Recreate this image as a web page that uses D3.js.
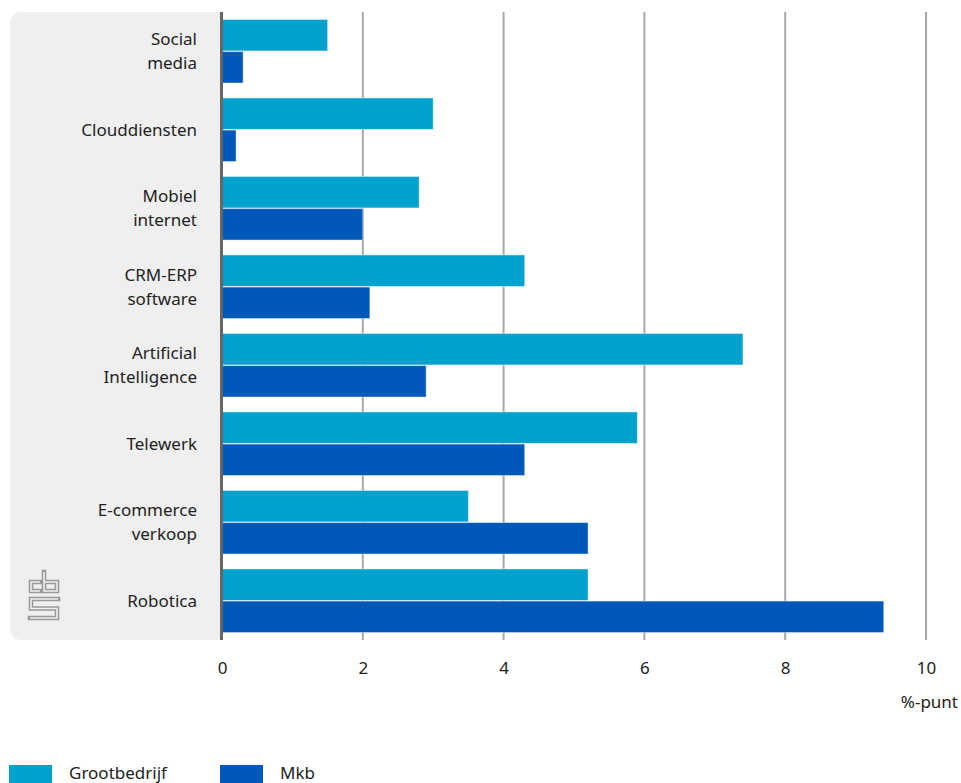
<!DOCTYPE html>
<html>
<head>
<meta charset="utf-8">
<script src="https://cdn.jsdelivr.net/npm/d3@7"></script>
<style>
  html, body { margin: 0; padding: 0; background: #fff; }
  svg { display: block; font-family: "Noto Sans", "DejaVu Sans", sans-serif; }
</style>
</head>
<body>
<svg id="chart" width="961" height="783"></svg>
<script>
// Onderwerpen en verschillen in %-punt
const categories = [
  ["Social", "media"],
  ["Clouddiensten"],
  ["Mobiel", "internet"],
  ["CRM-ERP", "software"],
  ["Artificial", "Intelligence"],
  ["Telewerk"],
  ["E-commerce", "verkoop"],
  ["Robotica"]
];
const grootbedrijf = [1.5, 3.0, 2.8, 4.3, 7.4, 5.9, 3.5, 5.2];
const mkb = [0.3, 0.2, 2.0, 2.1, 2.9, 4.3, 5.2, 9.4];
const seriesNames = ["Grootbedrijf", "Mkb"];
const seriesColors = ["#00a1cd", "#0058b8"];
const xTicks = [0, 2, 4, 6, 8, 10];
const unitLabel = "%-punt";

const svg = d3.select("#chart");
const plot = { left: 222, right: 926, top: 12, bottom: 640 };
const fontSize = 17;

const x = d3.scaleLinear().domain([0, 10]).range([plot.left, plot.right]);
const y = d3.scaleBand().domain(d3.range(categories.length))
  .range([plot.top, plot.bottom]).paddingInner(0.19).paddingOuter(0.095);
const inner = d3.scaleBand().domain([0, 1]).range([0, y.bandwidth()]).paddingInner(0.02);

// grijs labelpaneel met afgeronde linkerhoeken
const panelX = 10, r = 12;
svg.append("path")
  .attr("d", `M${plot.left},${plot.top} H${panelX + r} Q${panelX},${plot.top} ${panelX},${plot.top + r}
              V${plot.bottom - r} Q${panelX},${plot.bottom} ${panelX + r},${plot.bottom} H${plot.left} Z`)
  .attr("fill", "#efefef");

// verticale rasterlijnen
svg.append("g").selectAll("line").data(xTicks.filter(d => d > 0)).join("line")
  .attr("x1", d => x(d)).attr("x2", d => x(d))
  .attr("y1", plot.top).attr("y2", plot.bottom)
  .attr("stroke", "#a8a8a8").attr("stroke-width", 2);

// staven
const groups = svg.append("g").selectAll("g").data(categories).join("g")
  .attr("transform", (d, i) => `translate(0,${y(i)})`);
groups.selectAll("rect")
  .data((d, i) => [grootbedrijf[i], mkb[i]])
  .join("rect")
  .attr("x", x(0))
  .attr("y", (d, j) => inner(j))
  .attr("width", d => x(d) - x(0))
  .attr("height", inner.bandwidth())
  .attr("fill", (d, j) => seriesColors[j])
  .attr("stroke", "rgba(255,255,255,0.45)")
  .attr("stroke-width", 1);

// categorielabels
groups.append("text")
  .attr("text-anchor", "end")
  .attr("font-size", fontSize)
  .attr("fill", "#222")
  .each(function (d) {
    const t = d3.select(this);
    const lh = 24;
    const start = y.bandwidth() / 2 - (d.length - 1) * lh / 2 + 6;
    d.forEach((line, k) => {
      t.append("tspan").attr("x", 197).attr("y", start + k * lh).text(line);
    });
  });

// nul-as
svg.append("line")
  .attr("x1", x(0) - 0.5).attr("x2", x(0) - 0.5)
  .attr("y1", plot.top).attr("y2", plot.bottom)
  .attr("stroke", "#666").attr("stroke-width", 3);

// x-as labels
const axis = svg.append("g").attr("transform", `translate(0,${plot.bottom})`)
  .call(d3.axisBottom(x).tickValues(xTicks).tickSize(0).tickPadding(22).tickFormat(d3.format("d")));
axis.select(".domain").remove();
axis.selectAll("text").attr("font-size", fontSize).attr("fill", "#222")
  .attr("font-family", "\"Noto Sans\", \"DejaVu Sans\", sans-serif");

svg.append("text")
  .attr("x", 958).attr("y", 708)
  .attr("text-anchor", "end").attr("font-size", fontSize).attr("fill", "#222")
  .text(unitLabel);

// CBS-logo: holle lijnen (dikke grijze lijn met dunne paneelkleur erover)
const logoPaths = [
  "M11,10 H2 V19 H11",
  "M15,0 V19 H28 V10 H15",
  "M29,27 H2 V36.5 H28 V46 H1"
];
const logo = svg.append("g").attr("transform", "translate(29,572)").attr("fill", "none");
logoPaths.forEach(p => {
  logo.append("path").attr("d", p).attr("stroke", "#999").attr("stroke-width", 4.6)
    .attr("stroke-linecap", "square").attr("stroke-linejoin", "miter");
  logo.append("path").attr("d", p).attr("stroke", "#efefef").attr("stroke-width", 1.6)
    .attr("stroke-linecap", "butt").attr("stroke-linejoin", "miter");
});

// legenda
const legend = svg.append("g").attr("transform", "translate(0,765)");
const legX = [9, 220];
seriesNames.forEach((name, i) => {
  legend.append("rect").attr("x", legX[i]).attr("y", 0).attr("width", 43).attr("height", 18)
    .attr("fill", seriesColors[i]);
  legend.append("text").attr("x", legX[i] + 60).attr("y", 14)
    .attr("font-size", fontSize).attr("fill", "#222").text(name);
});
</script>
</body>
</html>
